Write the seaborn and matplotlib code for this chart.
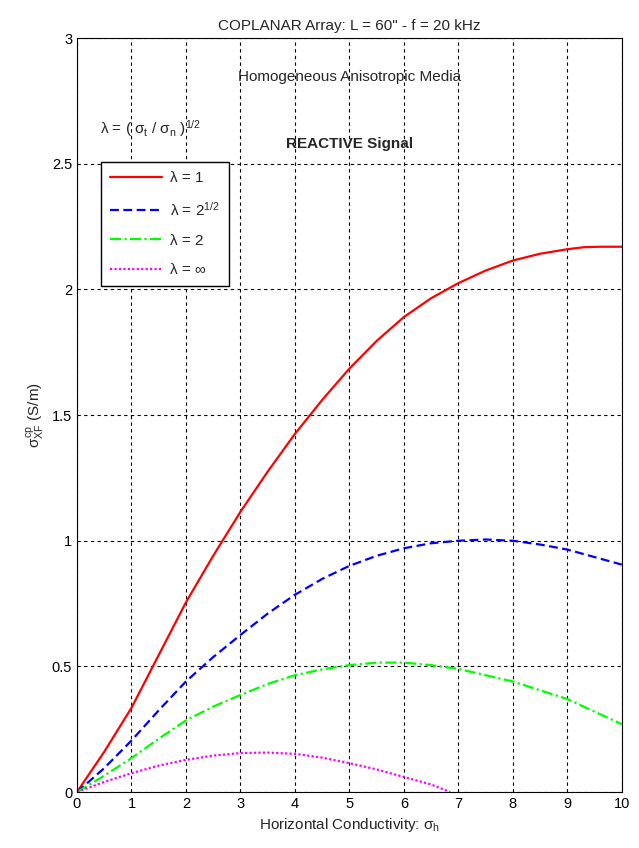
import numpy as np
import pandas as pd
import matplotlib
matplotlib.use("Agg")
import matplotlib.pyplot as plt
import seaborn as sns

x_red = [0, 0.5, 1, 1.5, 2, 2.5, 3, 3.5, 4, 4.5, 5, 5.5, 6, 6.5, 7, 7.5, 8, 8.5, 9, 9.3, 9.6, 10]
y_red = [0, 0.16, 0.335, 0.545, 0.755, 0.94, 1.115, 1.275, 1.425, 1.56, 1.685, 1.795, 1.89, 1.965, 2.025, 2.075, 2.115, 2.142, 2.16, 2.168, 2.17, 2.17]

x_blue = [0, 0.5, 1, 1.5, 2, 2.5, 3, 3.5, 4, 4.5, 5, 5.5, 6, 6.5, 7, 7.5, 8, 8.5, 9, 9.5, 10]
y_blue = [0, 0.095, 0.205, 0.325, 0.44, 0.537, 0.625, 0.71, 0.785, 0.848, 0.90, 0.94, 0.97, 0.99, 1.0, 1.005, 1.0, 0.985, 0.965, 0.935, 0.905]

x_green = [0, 0.5, 1, 1.5, 2, 2.5, 3, 3.5, 4, 4.5, 5, 5.5, 6, 6.5, 7, 7.5, 8, 8.5, 9, 9.5, 10]
y_green = [0, 0.065, 0.135, 0.212, 0.285, 0.34, 0.386, 0.43, 0.465, 0.488, 0.505, 0.515, 0.515, 0.505, 0.49, 0.465, 0.44, 0.405, 0.37, 0.32, 0.27]

x_mag = [0, 0.5, 1, 1.5, 2, 2.5, 3, 3.5, 4, 4.5, 5, 5.5, 6, 6.5, 6.85]
y_mag = [0, 0.04, 0.075, 0.105, 0.128, 0.145, 0.155, 0.157, 0.152, 0.137, 0.115, 0.09, 0.06, 0.03, 0.0]

labels = ['λ = 1', 'λ = 2$^{1/2}$', 'λ = 2', 'λ = ∞']
colors = ['#ff0000', '#0000ff', '#00ff00', '#ff00ff']
styles = ['-', (0, (4, 2)), (0, (5, 1.5, 1, 1.5)), (0, (1, 1))]

x_ticks = list(range(0, 11))
y_ticks = [0, 0.5, 1, 1.5, 2, 2.5, 3]
y_ticklabels = ['0', '0.5', '1', '1.5', '2', '2.5', '3']

sns.set_style("white")
plt.rcParams['font.family'] = ['Liberation Sans', 'DejaVu Sans']
plt.rcParams['mathtext.fontset'] = 'custom'
plt.rcParams['mathtext.rm'] = 'Liberation Sans'
plt.rcParams['mathtext.it'] = 'Liberation Sans'

fig = plt.figure(figsize=(6.39, 8.48), dpi=100)
ax = fig.add_axes([0.1205, 0.066, 0.8525, 0.889])

series = [(x_red, y_red), (x_blue, y_blue), (x_green, y_green), (x_mag, y_mag)]
for (xs, ys), lab, c, ls in zip(series, labels, colors, styles):
    df = pd.DataFrame({'x': xs, 'y': ys})
    sns.lineplot(data=df, x='x', y='y', ax=ax, color=c, linewidth=1.6,
                 linestyle=ls, label=lab, sort=False)

ax.set_xlim(0, 10)
ax.set_ylim(0, 3)
ax.set_xticks(x_ticks)
ax.set_yticks(y_ticks)
ax.set_yticklabels(y_ticklabels)
ax.grid(True, color='black', linestyle=(0, (3, 3)), linewidth=0.8)
ax.tick_params(direction='in', length=5, labelsize=10.5, colors='black', width=0.8)
for s in ax.spines.values():
    s.set_color('black')
    s.set_linewidth(0.8)

ax.set_title('COPLANAR Array: L = 60" - f = 20 kHz', fontsize=11, pad=6)
ax.set_xlabel('Horizontal Conductivity: $\\sigma_h$', fontsize=11)
ax.set_ylabel('$\\sigma_{XF}^{cp}$ (S/m)', fontsize=11)

ax.text(5.0, 2.845, 'Homogeneous Anisotropic Media', ha='center', va='center', fontsize=11)
ax.text(5.0, 2.58, 'REACTIVE Signal', ha='center', va='center', fontsize=11, fontweight='bold')
ax.text(0.42, 2.64, 'λ = ( $\\sigma_t$ / $\\sigma_n$ )$^{1/2}$', ha='left', va='center', fontsize=11)

leg = ax.legend(loc='upper left', bbox_to_anchor=(0.044, 0.8355), fontsize=11,
                frameon=True, fancybox=False, handlelength=3.4, borderpad=0.6,
                labelspacing=1.0, handletextpad=0.5, borderaxespad=0)
leg.get_frame().set_edgecolor('black')
leg.get_frame().set_linewidth(1.0)
leg.get_frame().set_alpha(1)

fig.savefig('out.png', dpi=100)
